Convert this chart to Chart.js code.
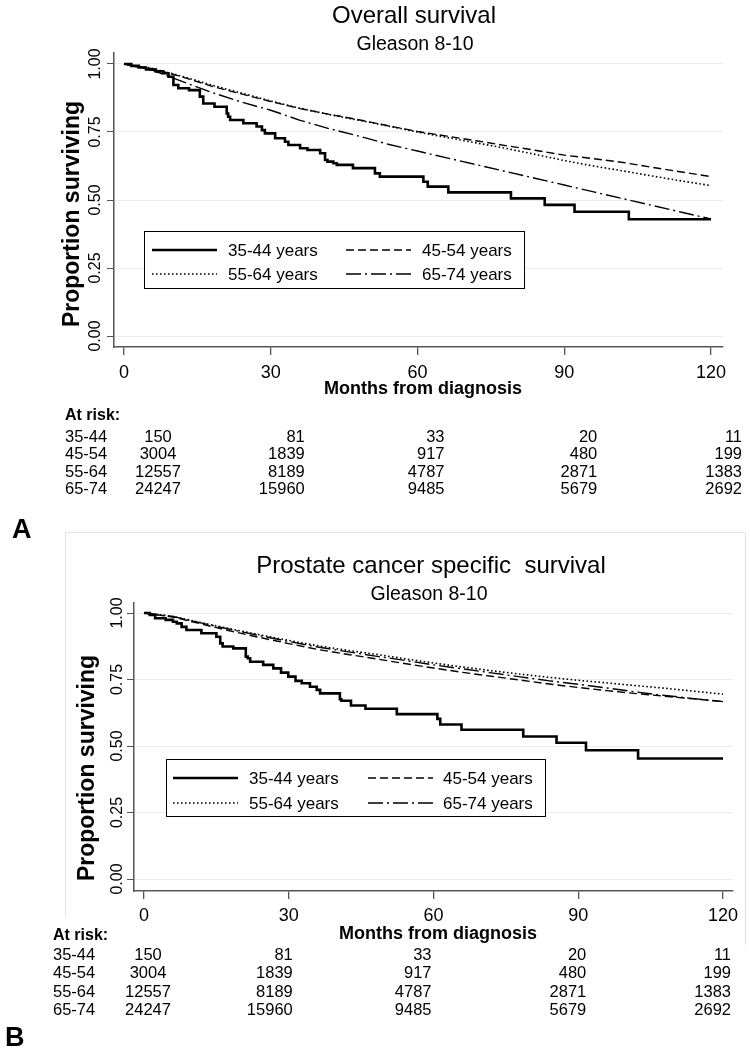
<!DOCTYPE html>
<html>
<head>
<meta charset="utf-8">
<script src="https://cdn.jsdelivr.net/npm/chart.js@4.4.1/dist/chart.umd.min.js"></script>
<style>
  body { margin: 0; background: #fff; }
  #wrap { position: relative; width: 750px; height: 1050px; }
  canvas { position: absolute; left: 0; }
</style>
</head>
<body>
<div id="wrap">
  <canvas id="chartA" width="750" height="548" style="top:0px"></canvas>
  <canvas id="chartB" width="750" height="520" style="top:530px"></canvas>
</div>
<script>
// ---- data ----
const groups = ['35-44', '45-54', '55-64', '65-74'];
const legendLabels = ['35-44 years', '45-54 years', '55-64 years', '65-74 years'];
const xTicks = [0, 30, 60, 90, 120];
const yTicks = [0, 0.25, 0.5, 0.75, 1];
const yTickLabels = ['0.00', '0.25', '0.50', '0.75', '1.00'];
const atRisk = [
    [150, 81, 33, 20, 11],
    [3004, 1839, 917, 480, 199],
    [12557, 8189, 4787, 2871, 1383],
    [24247, 15960, 9485, 5679, 2692]
];

// months for the large groups (nearly smooth curves)
const smoothTime = [0, 6, 12, 18, 24, 30, 36, 42, 48, 54, 60, 66, 72, 78, 84, 90, 96, 102, 108, 114, 120];

// A: overall survival
const osYoungTime = [0, 1.5, 3, 4.5, 6.5, 8, 9.1, 10.1, 11.1, 13.3, 15.5, 16.2, 18.5, 21.0, 21.3, 21.7, 24.4, 27.1, 28.2, 28.8, 30.9, 32.9, 33.6, 36.0, 37.5, 40.1, 41.1, 41.6, 42.8, 43.5, 46.8, 51.3, 52.3, 61.2, 62.1, 66.3, 79.1, 86.0, 92.1, 103.2, 120];
const osYoungSurv = [1, 0.993, 0.987, 0.980, 0.973, 0.966, 0.953, 0.923, 0.911, 0.904, 0.880, 0.855, 0.843, 0.818, 0.806, 0.794, 0.782, 0.770, 0.757, 0.745, 0.727, 0.714, 0.702, 0.690, 0.684, 0.672, 0.647, 0.641, 0.635, 0.629, 0.617, 0.598, 0.586, 0.567, 0.549, 0.528, 0.506, 0.482, 0.457, 0.429, 0.429];
const os4554 = [1, 0.982, 0.952, 0.918, 0.890, 0.862, 0.836, 0.815, 0.795, 0.773, 0.752, 0.735, 0.718, 0.700, 0.683, 0.665, 0.652, 0.638, 0.620, 0.603, 0.586];
const os5564 = [1, 0.983, 0.954, 0.922, 0.893, 0.864, 0.837, 0.814, 0.793, 0.772, 0.750, 0.730, 0.710, 0.690, 0.668, 0.645, 0.625, 0.607, 0.588, 0.570, 0.553];
const os6574 = [1, 0.976, 0.935, 0.895, 0.860, 0.830, 0.793, 0.762, 0.735, 0.705, 0.680, 0.655, 0.630, 0.605, 0.580, 0.555, 0.530, 0.505, 0.480, 0.455, 0.430];

// B: prostate cancer specific survival
const pcssYoungTime = [0, 1.2, 2.3, 4.5, 6.0, 6.8, 7.8, 8.8, 11.9, 15.0, 15.8, 16.3, 18.5, 21.1, 21.5, 22.0, 24.7, 26.8, 28.4, 29.9, 31.4, 32.7, 34.4, 35.8, 36.5, 40.6, 40.9, 42.9, 45.9, 52.4, 60.8, 61.4, 65.8, 78.6, 85.5, 91.6, 102.4, 120];
const pcssYoungSurv = [1, 0.993, 0.980, 0.974, 0.967, 0.961, 0.948, 0.936, 0.924, 0.911, 0.886, 0.874, 0.867, 0.836, 0.830, 0.817, 0.805, 0.792, 0.776, 0.761, 0.745, 0.736, 0.723, 0.711, 0.698, 0.676, 0.670, 0.652, 0.640, 0.620, 0.602, 0.581, 0.561, 0.536, 0.512, 0.484, 0.453, 0.453];
const pcss4554 = [1, 0.985, 0.958, 0.932, 0.908, 0.885, 0.863, 0.845, 0.828, 0.810, 0.793, 0.777, 0.762, 0.748, 0.733, 0.720, 0.708, 0.697, 0.687, 0.677, 0.667];
const pcss5564 = [1, 0.987, 0.963, 0.940, 0.918, 0.897, 0.877, 0.860, 0.845, 0.828, 0.812, 0.797, 0.783, 0.770, 0.758, 0.747, 0.737, 0.727, 0.717, 0.706, 0.695];
const pcss6574 = [1, 0.987, 0.962, 0.938, 0.915, 0.893, 0.872, 0.855, 0.838, 0.822, 0.805, 0.790, 0.775, 0.760, 0.745, 0.732, 0.718, 0.703, 0.690, 0.678, 0.667];

// ---- helpers ----
const FONT = "'Liberation Sans', Arial, sans-serif";
Chart.defaults.font.family = FONT;
Chart.defaults.color = '#000';

function curve(times, surv) {
    return times.map((t, i) => ({ x: t, y: surv[i] }));
}

// line styles: solid, dashed, dotted, dash-dot
const lineStyles = [
    { borderWidth: 2.6, borderDash: [], stepped: true },
    { borderWidth: 1.4, borderDash: [8, 4], stepped: false },
    { borderWidth: 1.6, borderDash: [1.6, 2.4], stepped: false },
    { borderWidth: 1.4, borderDash: [15, 4, 2, 4], stepped: false }
];

function buildDatasets(young, others) {
    const all = [young].concat(others);
    return all.map((d, i) => Object.assign({
        label: legendLabels[i],
        data: d,
        borderColor: '#000',
        pointRadius: 0,
        tension: 0,
        fill: false
    }, lineStyles[i]));
}

// draws titles, rotated y labels, legend box, at-risk table
const decor = {
    id: 'decor',
    afterDraw(chart, args, o) {
        const ctx = chart.ctx;
        const xs = chart.scales.x, ys = chart.scales.y;
        ctx.save();

        if (o.frame) {
            ctx.strokeStyle = '#e2e2e2';
            ctx.lineWidth = 1;
            ctx.beginPath();
            ctx.moveTo(65.5, 386); ctx.lineTo(65.5, 2.5); ctx.lineTo(745.5, 2.5); ctx.lineTo(745.5, 415);
            ctx.stroke();
        }

        ctx.fillStyle = '#000';
        ctx.textBaseline = 'alphabetic';
        ctx.textAlign = 'center';
        ctx.font = '24px ' + FONT;
        ctx.fillText(o.title, o.titleX, o.titleY);
        ctx.font = '19.5px ' + FONT;
        ctx.fillText('Gleason 8-10', o.subX, o.subY);

        // x tick labels
        ctx.font = '18px ' + FONT;
        xTicks.forEach(v => ctx.fillText(String(v), xs.getPixelForValue(v), o.xLabY));
        ctx.font = 'bold 18px ' + FONT;
        ctx.fillText('Months from diagnosis', o.xTitleX, o.xTitleY);

        // y tick labels, rotated
        ctx.font = '16px ' + FONT;
        ctx.textBaseline = 'middle';
        yTicks.forEach((v, i) => {
            ctx.save();
            ctx.translate(o.yLabX, ys.getPixelForValue(v));
            ctx.rotate(-Math.PI / 2);
            ctx.fillText(yTickLabels[i], 0, 0);
            ctx.restore();
        });
        ctx.save();
        ctx.font = 'bold 23px ' + FONT;
        ctx.translate(o.yTitleX, o.yTitleY);
        ctx.rotate(-Math.PI / 2);
        ctx.fillText('Proportion surviving', 0, 0);
        ctx.restore();

        // legend
        const L = o.legend;
        ctx.fillStyle = '#fff';
        ctx.fillRect(L.x0, L.y0, L.x1 - L.x0, L.y1 - L.y0);
        ctx.strokeStyle = '#000';
        ctx.lineWidth = 1;
        ctx.strokeRect(L.x0 + 0.5, L.y0 + 0.5, L.x1 - L.x0, L.y1 - L.y0);
        ctx.font = '17px ' + FONT;
        ctx.textAlign = 'left';
        chart.data.datasets.forEach((ds, i) => {
            const col = i % 2, row = Math.floor(i / 2);
            const sx = L.symX[col], y = L.rows[row];
            ctx.strokeStyle = '#000';
            ctx.lineWidth = ds.borderWidth;
            ctx.setLineDash(ds.borderDash);
            ctx.beginPath();
            ctx.moveTo(sx, y);
            ctx.lineTo(sx + 65, y);
            ctx.stroke();
            ctx.setLineDash([]);
            ctx.fillStyle = '#000';
            ctx.fillText(ds.label, L.textX[col], y + 1);
        });

        // at-risk table
        ctx.textBaseline = 'alphabetic';
        ctx.font = 'bold 16px ' + FONT;
        ctx.textAlign = 'left';
        ctx.fillText('At risk:', o.rowX, o.atRiskY);
        ctx.font = '16.5px ' + FONT;
        groups.forEach((g, r) => {
            const y = o.rowY[r];
            ctx.textAlign = 'left';
            ctx.fillText(g, o.rowX, y);
            atRisk[r].forEach((n, c) => {
                ctx.textAlign = c === 0 ? 'center' : 'right';
                ctx.fillText(String(n), xs.getPixelForValue(xTicks[c]) + o.colOff[c], y);
            });
        });

        // panel letter
        ctx.font = 'bold 27px ' + FONT;
        ctx.textAlign = 'left';
        ctx.fillText(o.letter, o.letterX, o.letterY);
        ctx.restore();
    }
};

function makeChart(id, datasets, cfg) {
    return new Chart(document.getElementById(id), {
        type: 'line',
        data: { datasets: datasets },
        options: {
            responsive: false,
            animation: false,
            devicePixelRatio: 1,
            layout: { padding: { left: 0, top: cfg.top, right: 750 - cfg.right, bottom: 0 } },
            plugins: { legend: { display: false }, tooltip: { enabled: false }, decor: cfg },
            scales: {
                x: {
                    type: 'linear',
                    min: cfg.xMin, max: cfg.xMax,
                    afterBuildTicks: s => { s.ticks = xTicks.map(v => ({ value: v })); },
                    afterFit: s => { s.height = cfg.canvasH - cfg.bottom; },
                    ticks: { display: false },
                    grid: { drawOnChartArea: false, drawTicks: true, tickLength: 8, tickColor: '#555', lineWidth: 1.3 },
                    border: { display: true, color: '#555', width: 1.5 }
                },
                y: {
                    type: 'linear',
                    min: cfg.yMin, max: cfg.yMax,
                    afterBuildTicks: s => { s.ticks = yTicks.map(v => ({ value: v })); },
                    afterFit: s => { s.width = cfg.left; },
                    ticks: { display: false },
                    grid: { color: '#ececec', lineWidth: 1, drawTicks: true, tickLength: 7, tickColor: '#555' },
                    border: { display: true, color: '#555', width: 1.5 }
                }
            }
        },
        plugins: [decor]
    });
}

makeChart('chartA', buildDatasets(curve(osYoungTime, osYoungSurv), [
    curve(smoothTime, os4554), curve(smoothTime, os5564), curve(smoothTime, os6574)
]), {
    canvasH: 548, top: 53, bottom: 347, left: 114, right: 723,
    xMin: -2.044, xMax: 122.45, yMin: -0.0404, yMax: 1.0404,
    title: 'Overall survival', titleX: 414, titleY: 23, subX: 415, subY: 50,
    xLabY: 378, xTitleX: 423, xTitleY: 394,
    yLabX: 96, yTitleX: 73, yTitleY: 214,
    legend: { x0: 144, x1: 524, y0: 231, y1: 288, rows: [250, 274], symX: [152, 346], textX: [228, 422] },
    rowX: 65, atRiskY: 420, rowY: [442, 459, 477, 494], colOff: [34, 34, 27, 33, 31],
    letter: 'A', letterX: 12, letterY: 538, frame: false
});

makeChart('chartB', buildDatasets(curve(pcssYoungTime, pcssYoungSurv), [
    curve(smoothTime, pcss4554), curve(smoothTime, pcss5564), curve(smoothTime, pcss6574)
]), {
    canvasH: 520, top: 73, bottom: 361, left: 134, right: 733,
    xMin: -2.07, xMax: 122.07, yMin: -0.0451, yMax: 1.0376,
    title: 'Prostate cancer specific  survival', titleX: 431, titleY: 43, subX: 429, subY: 70,
    xLabY: 391, xTitleX: 438, xTitleY: 409,
    yLabX: 118, yTitleX: 88, yTitleY: 238,
    legend: { x0: 166, x1: 545, y0: 229, y1: 286, rows: [248, 273], symX: [173, 368], textX: [249, 443] },
    rowX: 53, atRiskY: 410, rowY: [430, 448, 467, 485], colOff: [4, 4, -2, 8, 8],
    letter: 'B', letterX: 5, letterY: 516, frame: true
});
</script>
</body>
</html>
